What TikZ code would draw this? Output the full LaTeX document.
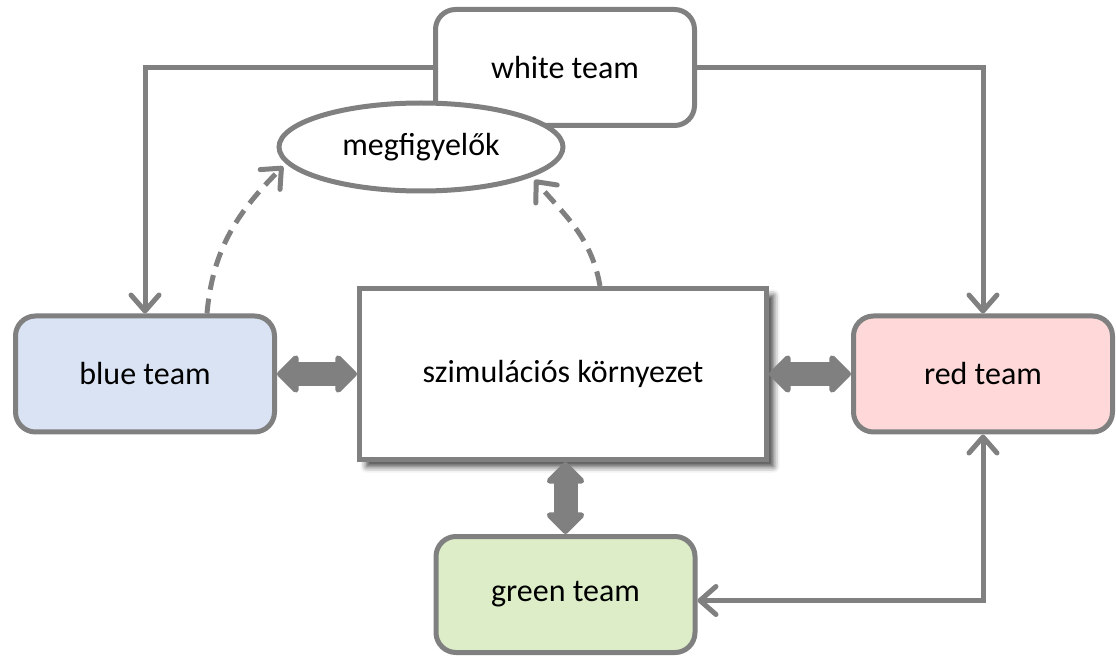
\documentclass[tikz,border=0pt]{standalone}
\usepackage{fontspec}
\setmainfont{Carlito}
\usetikzlibrary{arrows.meta,shapes.geometric,shadows.blur}
\definecolor{kgray}{HTML}{808080}
\definecolor{kblue}{HTML}{DAE3F3}
\definecolor{kred}{HTML}{FFD9D9}
\definecolor{kgreen}{HTML}{DCEDC8}
\begin{document}
\begin{tikzpicture}[x=0.5pt,y=-0.5pt,font=\fontsize{16}{19}\selectfont,
  >={Straight Barb[length=8pt,width=14pt,round]},
  team/.style={draw=kgray,line width=2.5pt,rounded corners=10pt,fill=white,minimum width=129.5pt,minimum height=58pt,inner sep=0pt},
  link/.style={draw=kgray,line width=2.5pt},
  fatarrow/.style={draw=kgray,line width=12pt,{Triangle[length=11.5pt,width=22pt,round]}-{Triangle[length=11.5pt,width=22pt,round]}},
  look/.style={link,->,dash pattern=on 7.5pt off 4.5pt,shorten >=2pt}]
\useasboundingbox(0,0)rectangle(1116,658);
\node[team](white)at(565,67.5){white team};
\node[link,ellipse,fill=white,minimum width=142pt,minimum height=44pt,inner sep=0pt](obs)at(421,147){megfigyelők};
\node[team,fill=kblue](blue)at(145,374){blue team};
\node[team,fill=kred](red)at(983,374){red team};
\node[team,fill=kgreen](green)at(565.5,594.5){green team};
\node[link,fill=white,minimum width=203.5pt,minimum height=85.5pt,inner sep=0pt,
  blur shadow={shadow xshift=3.5pt,shadow yshift=-3.5pt,shadow blur radius=3pt,shadow opacity=75}](sim)at(563,374){szimulációs környezet};
\draw[link,->](white.west)-|(blue.north);
\draw[link,->](white.east)-|(red.north);
\draw[link,<->]([yshift=-3pt]green.east)-|(red.south);
\draw[fatarrow](blue.east)--(sim.west);
\draw[fatarrow](sim.east)--(red.west);
\draw[fatarrow](sim.south-|green.north)--(green.north);
\draw[look]([xshift=31pt]blue.north)to[out=85,in=225](obs.187);
\draw[look]([xshift=18.5pt]sim.north)to[out=100,in=-50](obs.-15);
\end{tikzpicture}
\end{document}
